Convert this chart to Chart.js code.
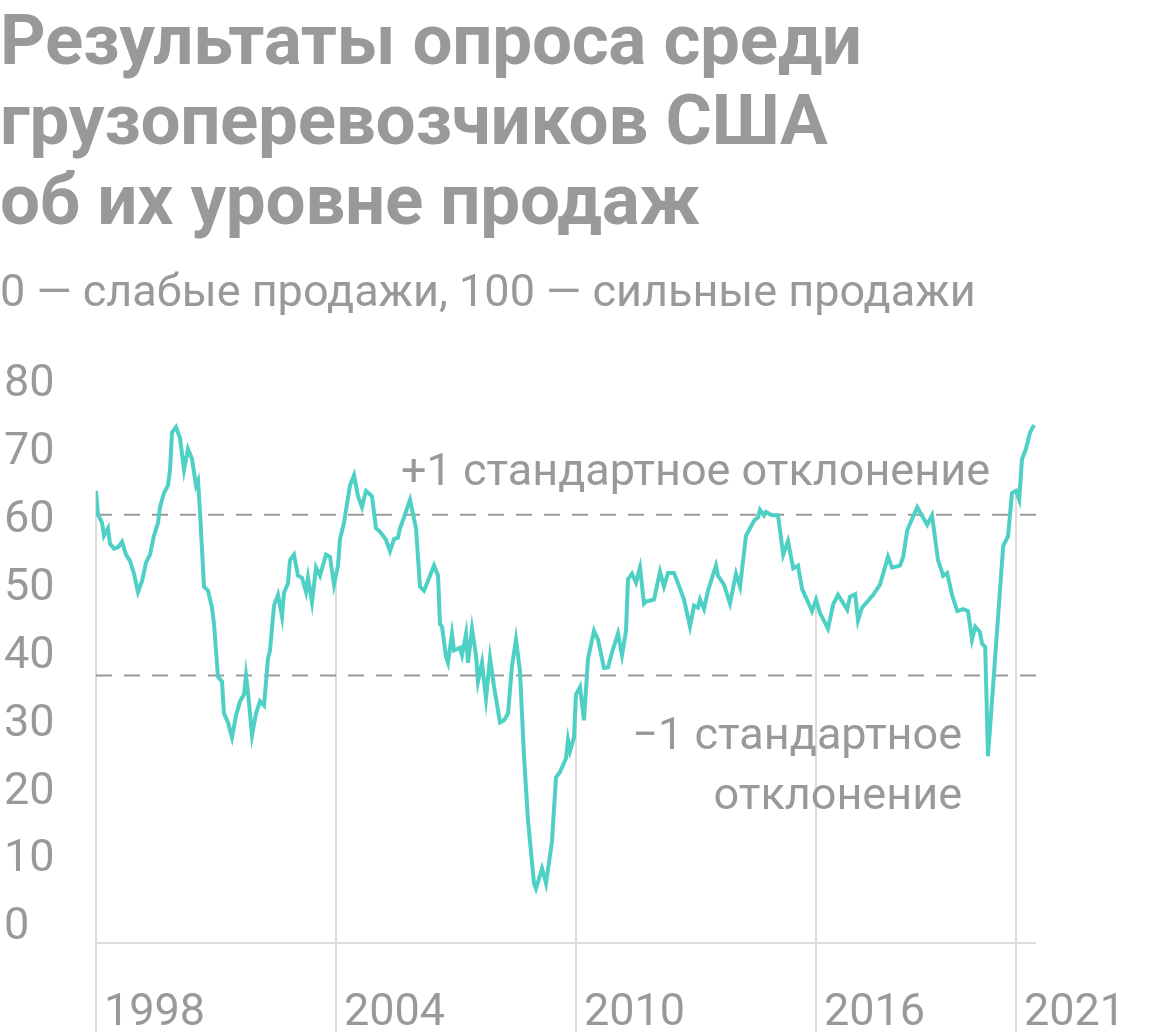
<!DOCTYPE html>
<html>
<head>
<meta charset="utf-8">
<script src="https://cdn.jsdelivr.net/npm/chart.js@4"></script>
<style>
  body { margin:0; background:#fff; font-family: Roboto, "Noto Sans", sans-serif; }
  #wrap { position:relative; width:1160px; height:1032px; overflow:hidden; }
  h1 { position:absolute; left:0; top:0; margin:0; font-size:71px; line-height:80px; font-weight:700; color:#999; letter-spacing:-0.3px; }
  .sub { position:absolute; left:0; top:264px; font-size:45px; color:#999; }
  canvas { position:absolute; left:0; top:0; }
</style>
</head>
<body>
<div id="wrap">
  <canvas id="chart" width="1160" height="1032"></canvas>
  <h1>Результаты опроса среди<br>грузоперевозчиков США<br>об их уровне продаж</h1>
  <div class="sub">0 — слабые продажи, 100 — сильные продажи</div>
</div>
<script>
// даты в долях года, значения индекса
const dates = [1998.00,1998.05,1998.15,1998.20,1998.30,1998.35,1998.45,1998.55,1998.65,1998.75,1998.85,1998.95,
  1999.05,1999.15,1999.25,1999.35,1999.45,1999.55,1999.60,1999.70,1999.80,1999.85,1999.90,
  2000.00,2000.10,2000.20,2000.30,2000.40,2000.50,2000.55,2000.60,2000.70,2000.80,2000.90,2000.95,
  2001.05,2001.15,2001.20,2001.30,2001.40,2001.50,2001.60,2001.70,2001.75,2001.80,2001.90,
  2002.00,2002.10,2002.20,2002.30,2002.35,2002.45,2002.55,2002.65,2002.70,2002.80,2002.85,2002.95,
  2003.05,2003.15,2003.25,2003.30,2003.40,2003.50,2003.60,2003.75,2003.85,2003.95,
  2004.05,2004.10,2004.20,2004.35,2004.45,2004.55,2004.65,2004.75,2004.90,
  2005.00,2005.10,2005.25,2005.35,2005.45,2005.55,2005.60,2005.70,2005.85,
  2006.00,2006.10,2006.20,2006.35,2006.45,2006.55,2006.60,2006.65,2006.75,2006.80,2006.90,2006.95,
  2007.10,2007.15,2007.25,2007.30,2007.40,2007.50,2007.55,2007.65,2007.75,2007.85,2007.95,
  2008.10,2008.20,2008.30,2008.40,2008.50,2008.60,2008.70,2008.80,2008.95,
  2009.00,2009.15,2009.25,2009.40,2009.50,2009.60,2009.75,2009.80,2009.85,2009.95,
  2010.00,2010.10,2010.20,2010.30,2010.45,2010.55,2010.70,2010.80,2010.90,
  2011.05,2011.15,2011.25,2011.30,2011.40,2011.50,2011.60,2011.70,2011.75,2011.95,
  2012.10,2012.20,2012.30,2012.45,2012.55,2012.70,2012.85,2012.95,
  2013.05,2013.10,2013.20,2013.30,2013.40,2013.50,2013.55,2013.70,2013.85,
  2014.00,2014.10,2014.25,2014.35,2014.45,2014.55,2014.60,2014.70,2014.75,2014.90,
  2015.05,2015.18,2015.30,2015.43,2015.55,2015.65,2015.90,
  2016.00,2016.10,2016.30,2016.43,2016.55,2016.78,2016.85,2016.98,
  2017.05,2017.15,2017.43,2017.60,2017.80,2017.90,
  2018.10,2018.18,2018.28,2018.53,2018.78,2018.90,
  2019.05,2019.18,2019.28,2019.40,2019.53,2019.68,2019.80,2019.90,2019.98,
  2020.10,2020.15,2020.23,2020.30,2020.68,2020.80,2020.90,
  2021.00,2021.08,2021.15,2021.25,2021.35,2021.45];
const values = [64.4,60.9,59.7,57.8,58.9,56.6,55.9,56.1,56.9,55.0,54.1,52.2,
  49.5,51.1,53.8,55.0,57.8,59.7,62.0,64.1,65.2,67.5,73.0,
  73.8,72.2,67.5,70.6,69.1,65.2,65.9,61.3,50.3,49.7,47.2,44.8,
  37.0,36.3,31.6,30.3,28.1,31.3,33.4,34.4,37.2,34.7,28.4,
  31.6,33.4,32.8,39.7,40.9,47.5,49.1,45.9,49.4,50.8,54.2,55.0,
  51.9,51.6,49.5,51.6,48.0,53.1,51.9,55.0,54.7,50.6,
  53.4,57.3,59.7,65.2,66.7,63.6,62.0,64.4,63.6,
  58.9,58.4,57.2,55.5,57.3,57.5,58.9,60.5,63.1,
  58.9,50.3,49.7,51.9,53.4,51.9,44.8,44.4,40.0,39.1,43.3,40.9,
  41.3,40.2,43.3,39.1,44.1,40.2,36.3,39.1,33.8,39.8,35.6,
  30.3,30.6,31.6,38.6,42.5,37.8,25.3,15.9,6.6,
  5.8,8.8,6.6,12.8,22.2,23.0,25.0,27.7,26.1,28.1,
  34.4,35.5,30.6,39.7,43.8,42.5,38.3,38.4,40.6,
  43.4,40.2,43.8,51.4,52.2,50.9,53.1,47.8,48.1,48.4,
  52.5,50.3,52.3,52.3,50.8,48.4,44.4,47.5,
  47.2,48.4,47.0,49.7,51.6,53.4,51.9,50.6,47.8,
  52.2,50.3,57.8,58.9,60.0,60.5,61.6,60.8,61.3,60.8,
  60.8,55.0,57.0,53.0,53.4,50.0,46.7,
  48.4,46.4,44.1,47.7,49.1,46.9,48.8,49.2,
  45.3,47.2,49.1,50.6,54.7,53.1,
  53.4,54.7,58.6,62.0,59.4,60.8,
  54.2,51.9,52.3,49.1,46.7,47.0,46.7,42.5,44.4,
  43.6,41.9,41.4,25.3,56.3,57.7,64.1,
  64.4,63.1,69.1,70.6,73.0,74.1];
const yTicks = [0,10,20,30,40,50,60,70,80];
const xTicks = [1998,2004,2010,2016,2021];
const plusSd = 60.9;
const minusSd = 37.2;

const GRAY = '#999';
const LIGHT = '#dcdcdc';

function valueAt(x) {
  for (let i = 1; i < dates.length; i++) {
    if (dates[i] >= x) {
      const t = (x - dates[i-1]) / (dates[i] - dates[i-1]);
      return values[i-1] + t * (values[i] - values[i-1]);
    }
  }
  return values[values.length-1];
}

const decor = {
  id: 'decor',
  beforeDatasetsDraw(chart) {
    const {ctx, chartArea:a, scales:{x, y}} = chart;
    ctx.save();
    ctx.strokeStyle = LIGHT; ctx.lineWidth = 2;
    xTicks.forEach(t => {
      const px = x.getPixelForValue(t);
      ctx.beginPath(); ctx.moveTo(px, y.getPixelForValue(valueAt(t))); ctx.lineTo(px, 1032); ctx.stroke();
    });
    ctx.beginPath(); ctx.moveTo(a.left, a.bottom); ctx.lineTo(a.right, a.bottom); ctx.stroke();
    ctx.strokeStyle = GRAY; ctx.setLineDash([16, 12]);
    [plusSd, minusSd].forEach(v => {
      const py = y.getPixelForValue(v);
      ctx.beginPath(); ctx.moveTo(a.left, py); ctx.lineTo(a.right, py); ctx.stroke();
    });
    ctx.setLineDash([]);
    ctx.fillStyle = GRAY; ctx.font = '45px Roboto'; ctx.textAlign = 'right'; ctx.textBaseline = 'middle';
    ctx.fillText('+1 стандартное отклонение', 990, 474);
    ctx.fillText('\u22121 стандартное', 962, 738);
    ctx.fillText('отклонение', 962, 798);
    ctx.restore();
  }
};

new Chart(document.getElementById('chart'), {
  type: 'line',
  data: { datasets: [{ data: dates.map((d, i) => ({x: d, y: values[i]})), borderColor: '#4fd0c5', borderWidth: 4, pointRadius: 0, tension: 0 }] },
  options: {
    responsive: false, animation: false,
    layout: { padding: { top: 385, right: 124, bottom: -45, left: 4 } },
    plugins: { legend: {display:false}, tooltip: {enabled:false} },
    scales: {
      x: { type:'linear', min:1998, max:2021.5,
        grid:{display:false}, border:{display:false},
        afterBuildTicks: s => { s.ticks = xTicks.map(v => ({value:v})); },
        ticks:{ color:GRAY, font:{size:45, family:'Roboto'}, align:'start', labelOffset:8, padding:36, maxRotation:0, autoSkip:false, callback: v => String(v) } },
      y: { min:-2.2, max:80,
        grid:{display:false}, border:{display:false},
        afterBuildTicks: s => { s.ticks = yTicks.map(v => ({value:v})); },
        afterFit: s => { s.width = 92; },
        ticks:{ color:GRAY, font:{size:45, family:'Roboto'}, crossAlign:'far', padding:0 } }
    }
  },
  plugins: [decor]
});
</script>
</body>
</html>
